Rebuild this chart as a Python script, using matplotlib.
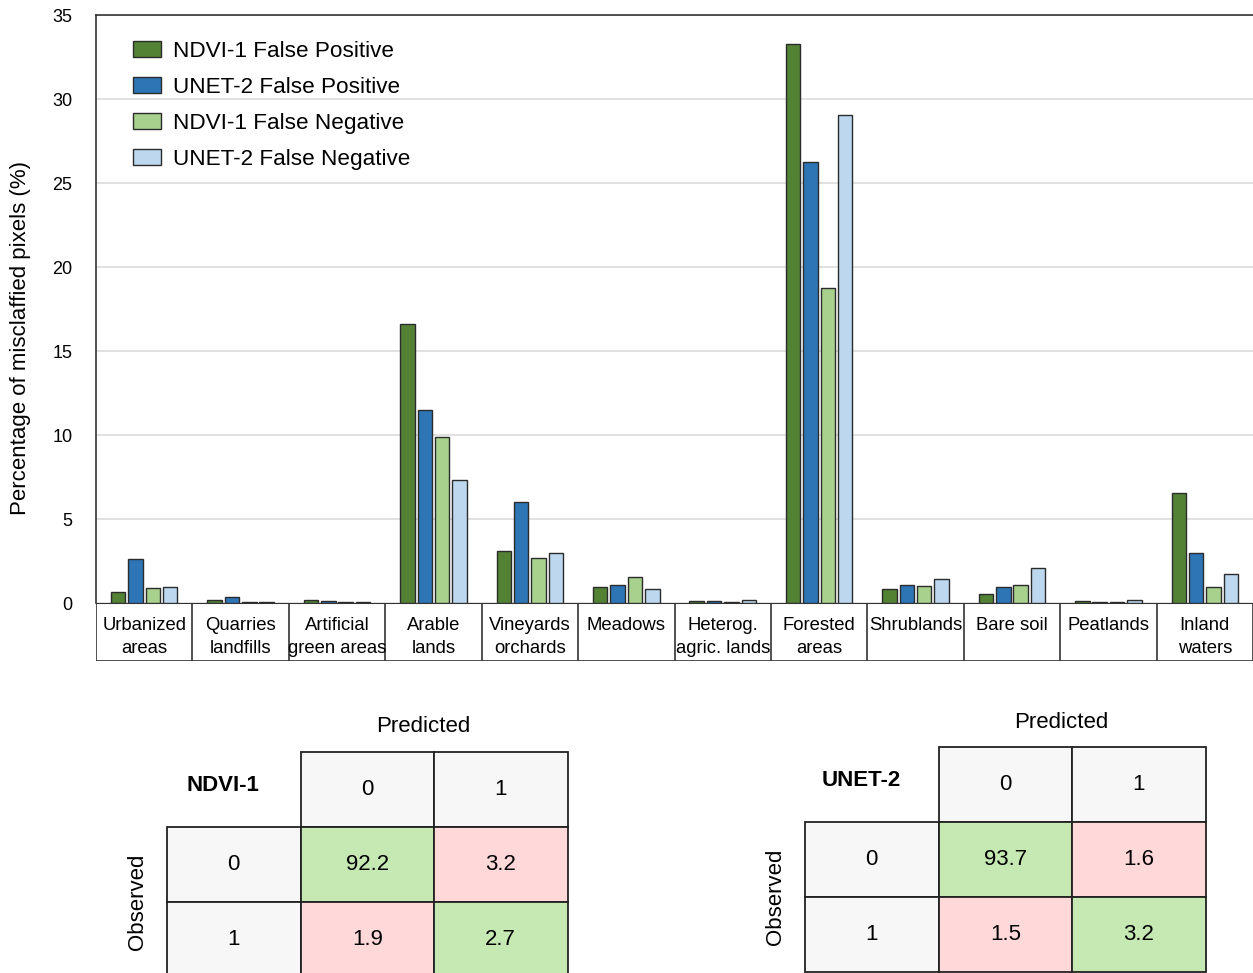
import numpy as np
import matplotlib
matplotlib.use("Agg")
import matplotlib.pyplot as plt
from matplotlib.patches import Rectangle

plt.rcParams['font.family'] = ['Liberation Sans', 'DejaVu Sans']

# land cover classes and misclassification rates (%)
categories = ["Urbanized\nareas", "Quarries\nlandfills", "Artificial\ngreen areas",
              "Arable\nlands", "Vineyards\norchards", "Meadows", "Heterog.\nagric. lands",
              "Forested\nareas", "Shrublands", "Bare soil", "Peatlands", "Inland\nwaters"]
ndvi_fp = [0.65, 0.15, 0.15, 16.6, 3.1, 0.95, 0.1, 33.3, 0.85, 0.55, 0.1, 6.55]
unet_fp = [2.6, 0.35, 0.1, 11.5, 6.0, 1.1, 0.1, 26.25, 1.1, 0.95, 0.05, 2.95]
ndvi_fn = [0.9, 0.05, 0.05, 9.9, 2.7, 1.55, 0.05, 18.75, 1.0, 1.1, 0.05, 0.95]
unet_fn = [0.95, 0.05, 0.05, 7.3, 3.0, 0.85, 0.15, 29.05, 1.45, 2.1, 0.15, 1.75]
series_names = ["NDVI-1 False Positive", "UNET-2 False Positive",
                "NDVI-1 False Negative", "UNET-2 False Negative"]
series_colors = ["#548235", "#2e75b6", "#a9d18e", "#bdd7ee"]

# confusion matrices (%), rows = observed, cols = predicted
ndvi_matrix = [[92.2, 3.2], [1.9, 2.7]]
unet_matrix = [[93.7, 1.6], [1.5, 3.2]]
class_labels = ["0", "1"]

W, H = 1253, 973
fig = plt.figure(figsize=(W / 100, H / 100), dpi=100)


def fig_rect(x0, y0, x1, y1):
    return [x0 / W, 1 - y1 / H, (x1 - x0) / W, (y1 - y0) / H]


ax = fig.add_axes(fig_rect(96, 15, 1253, 603))
x = np.arange(len(categories))
step, width = 0.18, 0.15
for i, (vals, name, col) in enumerate(zip([ndvi_fp, unet_fp, ndvi_fn, unet_fn],
                                          series_names, series_colors)):
    ax.bar(x + (i - 1.5) * step, vals, width, color=col, edgecolor="#2b2b2b",
           linewidth=1.0, label=name, zorder=3)

ax.set_xlim(-0.5, len(categories) - 0.5)
ax.set_ylim(0, 35)
ax.set_yticks(range(0, 36, 5))
ax.set_xticks([])
ax.tick_params(axis="y", length=0, pad=17, labelsize=13)
ax.yaxis.grid(True, color="#dcdcdc", linewidth=1.2, zorder=0)
ax.set_axisbelow(True)
ax.spines["right"].set_visible(False)
ax.spines["bottom"].set_visible(False)
for s in ["left", "top"]:
    ax.spines[s].set_color("#333333")
    ax.spines[s].set_linewidth(1.2)
ax.set_ylabel("Percentage of misclaffied pixels (%)", fontsize=16)
ax.yaxis.set_label_coords(-0.056, 0.45)
ax.legend(loc="upper left", bbox_to_anchor=(0.032, 0.956), frameon=False,
          fontsize=16.2, handlelength=1.24, handleheight=0.75, labelspacing=0.66,
          handletextpad=0.53, borderaxespad=0, borderpad=0)

# category label strip under the bars
cax = fig.add_axes(fig_rect(96, 603, 1253, 661))
cax.set_xlim(ax.get_xlim())
cax.set_ylim(0, 1)
cax.axis("off")
for k in range(len(categories) + 1):
    cax.axvline(k - 0.5, color="#333333", linewidth=1.2)
cax.axhline(1, color="#333333", linewidth=1.5)
cax.axhline(0, color="#333333", linewidth=1.2)
for k, lab in enumerate(categories):
    cax.text(k, 0.76, lab, ha="center", va="top", fontsize=13.3, linespacing=1.44)

# confusion matrix tables
tax = fig.add_axes([0, 0, 1, 1])
tax.set_xlim(0, W)
tax.set_ylim(H, 0)
tax.axis("off")


def draw_matrix(mat, title, left, top, cw=133.5, ch=75):
    edge = dict(edgecolor="#222222", linewidth=1.3)
    x0 = left + cw
    tax.text(x0 + cw - 11, top - 25, "Predicted", ha="center", va="center", fontsize=16)
    tax.text(left + cw * 0.42, top + ch * 0.45, title, ha="center", va="center",
             fontsize=16, fontweight="bold")
    tax.text(left - 29, top + ch * 2, "Observed", ha="center", va="center",
             fontsize=16, rotation=90)
    for j, lab in enumerate(class_labels):
        tax.add_patch(Rectangle((x0 + j * cw, top), cw, ch, facecolor="#f7f7f7", **edge))
        tax.text(x0 + j * cw + cw / 2, top + ch / 2, lab, ha="center", va="center", fontsize=16)
    for i, lab in enumerate(class_labels):
        y0 = top + (i + 1) * ch
        tax.add_patch(Rectangle((left, y0), cw, ch, facecolor="#f7f7f7", **edge))
        tax.text(left + cw / 2, y0 + ch / 2, lab, ha="center", va="center", fontsize=16)
        for j in range(2):
            fc = "#c6e9b4" if i == j else "#ffd9d9"
            tax.add_patch(Rectangle((x0 + j * cw, y0), cw, ch, facecolor=fc, **edge))
            tax.text(x0 + j * cw + cw / 2, y0 + ch / 2, f"{mat[i][j]:.1f}",
                     ha="center", va="center", fontsize=16)


draw_matrix(ndvi_matrix, "NDVI-1", 167, 752)
draw_matrix(unet_matrix, "UNET-2", 805, 747)

fig.savefig("out.png", dpi=100)
